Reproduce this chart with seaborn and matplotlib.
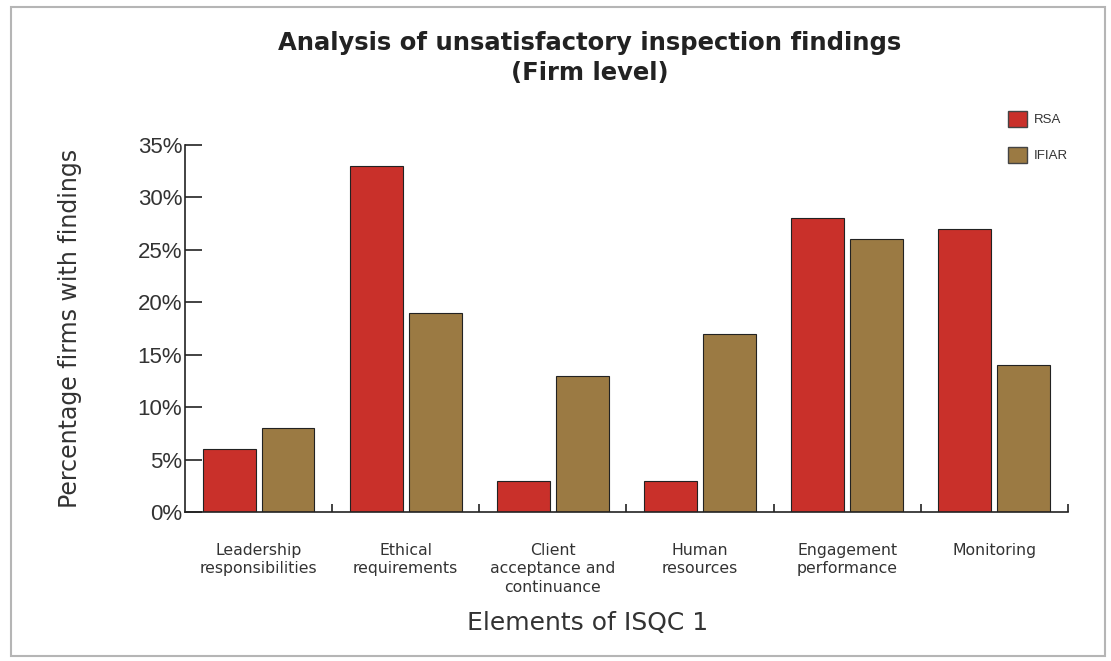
import pandas as pd
import numpy as np
import matplotlib
matplotlib.use("Agg")
import matplotlib.pyplot as plt
import matplotlib.patches as mpatches
from matplotlib.ticker import FuncFormatter
import seaborn as sns

categories = ["Leadership\nresponsibilities", "Ethical\nrequirements",
              "Client\nacceptance and\ncontinuance", "Human\nresources",
              "Engagement\nperformance", "Monitoring"]
rsa = [6, 33, 3, 3, 28, 27]
ifiar = [8, 19, 13, 17, 26, 14]
series = ["RSA", "IFIAR"]
colors = {"RSA": "#C9302A", "IFIAR": "#9B7A43"}

df = pd.DataFrame({
    "element": categories * 2,
    "value": rsa + ifiar,
    "series": ["RSA"] * len(rsa) + ["IFIAR"] * len(ifiar),
})

sns.set_style("white")
plt.rcParams['font.family'] = ['Liberation Sans', 'DejaVu Sans']
wide = ['DejaVu Sans']

fig = plt.figure(figsize=(11.11, 6.61), dpi=100)
ax = fig.add_axes([0.1665, 0.2254, 0.7948, 0.5552])

sns.barplot(data=df, x="element", y="value", hue="series", order=categories,
            hue_order=series, palette=colors, width=0.8, gap=0.1,
            edgecolor="#222222", linewidth=0.8, saturation=1, ax=ax, legend=False)

ax.set_xlim(-0.5, len(categories) - 0.5)
ax.set_ylim(0, 35)
ax.set_yticks(np.arange(0, 36, 5))
ax.yaxis.set_major_formatter(FuncFormatter(lambda v, p: f"{int(v)}%"))
ax.tick_params(axis="y", direction="in", length=12, width=1.2, labelsize=16,
               pad=2, left=True, colors="#222222", labelcolor="#333333")

# boundary ticks on x, labels at group centres
ax.set_xticks(np.arange(len(categories)) + 0.5)
ax.set_xticklabels([])
ax.set_xticks(np.arange(len(categories)), minor=True)
ax.set_xticklabels(categories, minor=True, fontsize=11.3, va="top",
                   color="#333333", family=wide, linespacing=1.3)
ax.tick_params(axis="x", which="major", direction="in", length=6, width=1.2,
               bottom=True, colors="#222222")
ax.tick_params(axis="x", which="minor", length=0, pad=22)

for s in ["top", "right"]:
    ax.spines[s].set_visible(False)
for s in ["left", "bottom"]:
    ax.spines[s].set_color("#222222")
    ax.spines[s].set_linewidth(1.2)

ax.set_xlabel("Elements of ISQC 1", fontsize=18, color="#333333", family=wide)
ax.xaxis.set_label_coords(0.456, -0.27)
ax.set_ylabel("Percentage firms with findings", fontsize=17, color="#333333",
              labelpad=40, family=wide)

fig.text(0.531, 0.912, "Analysis of unsatisfactory inspection findings\n(Firm level)",
         ha="center", va="center", fontsize=17.5, fontweight="bold",
         color="#222222", linespacing=1.3, family=wide)

handles = [mpatches.Patch(facecolor=colors[s], edgecolor="#444444", label=s) for s in series]
fig.legend(handles=handles, loc="upper left", bbox_to_anchor=(0.897, 0.85),
           frameon=False, fontsize=9.5, handlelength=1.4, handleheight=1.5,
           labelspacing=1.5, handletextpad=0.5, labelcolor="#333333")

border = mpatches.Rectangle((0.010, 0.008), 0.985, 0.981, transform=fig.transFigure,
                            fill=False, edgecolor="#b5b5b5", linewidth=1.5)
fig.patches.append(border)

fig.savefig("out.png", dpi=100, facecolor="white")
